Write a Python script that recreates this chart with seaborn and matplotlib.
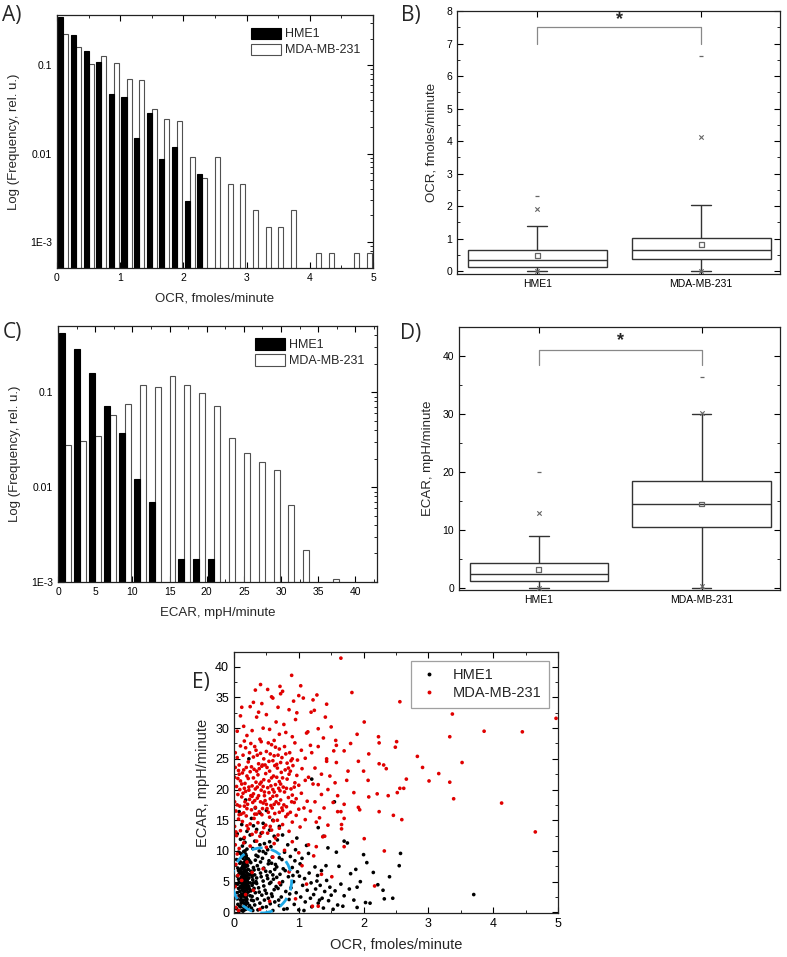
import numpy as np
import pandas as pd
import matplotlib
matplotlib.use('Agg')
import matplotlib.pyplot as plt
import seaborn as sns
from matplotlib.ticker import MultipleLocator, FixedLocator, FixedFormatter, LogLocator, NullFormatter
from matplotlib.patches import Patch, Ellipse
from matplotlib.lines import Line2D

sns.set_style('ticks')
plt.rcParams['font.family'] = ['Liberation Sans', 'DejaVu Sans']

cells = ['HME1', 'MDA-MB-231']

# A) OCR histogram, bins of 0.2 fmoles/minute
ocr_bin_centers = [0.1, 0.3, 0.5, 0.7, 0.9, 1.1, 1.3, 1.5, 1.7, 1.9, 2.1, 2.3, 2.5,
                   2.7, 2.9, 3.1, 3.3, 3.5, 3.7, 3.9, 4.1, 4.3, 4.5, 4.7, 4.9]
ocr_hme1_freq = [0.35, 0.22, 0.146, 0.109, 0.047, 0.044, 0.0149, 0.029, 0.0088, 0.0119, 0.00295, 0.0059, 0,
                 0, 0, 0, 0, 0, 0, 0, 0, 0, 0, 0, 0]
ocr_mda_freq = [0.225, 0.161, 0.104, 0.128, 0.106, 0.070, 0.068, 0.0324, 0.0248, 0.0233, 0.0091, 0.0053, 0.0091,
                0.0046, 0.0046, 0.00228, 0.0015, 0.0015, 0.00228, 0, 0.00075, 0.00075, 0, 0.00075, 0.00075]

# C) ECAR histogram, bins of 2 mpH/minute
ecar_bin_centers = [1, 3, 5, 7, 9, 11, 13, 15, 17, 19, 21, 23, 25, 27, 29, 31, 33, 35, 37, 39, 41]
ecar_hme1_freq = [0.425, 0.283, 0.160, 0.071, 0.037, 0.0123, 0.0070, 0, 0.00177, 0.00177, 0.00177,
                  0, 0, 0, 0, 0, 0, 0, 0, 0, 0]
ecar_mda_freq = [0.0275, 0.0305, 0.0348, 0.058, 0.076, 0.120, 0.115, 0.148, 0.120, 0.098, 0.071,
                 0.0329, 0.0228, 0.0183, 0.0152, 0.0065, 0.00216, 0, 0.00108, 0, 0]

# B) OCR box summary: whisker low, Q1, median, Q3, whisker high
ocr_box_hme1 = [0.0, 0.12, 0.33, 0.64, 1.40]
ocr_box_mda = [0.0, 0.36, 0.64, 1.02, 2.02]
ocr_mean = [0.47, 0.82]
ocr_p1 = [0.0, 0.0]
ocr_p99 = [1.92, 4.12]
ocr_min = [0.0, 0.0]
ocr_max = [2.32, 6.62]

# D) ECAR box summary
ecar_box_hme1 = [0.0, 1.3, 2.5, 4.4, 9.0]
ecar_box_mda = [0.0, 10.5, 14.5, 18.4, 30.1]
ecar_mean = [3.2, 14.5]
ecar_p1 = [0.0, 0.4]
ecar_p99 = [13.0, 30.2]
ecar_min = [0.0, 0.0]
ecar_max = [20.1, 36.4]

# E) single cell OCR / ECAR
hme1_points = [
    (0.12, 0.3), (0.15, 0.8), (0.18, 1.2), (0.14, 1.6), (0.2, 2.1), (0.11, 2.4), (0.17, 2.9), (0.22, 3.3),
    (0.13, 3.6), (0.16, 4.0), (0.19, 4.4), (0.12, 4.7), (0.21, 5.0), (0.15, 5.3), (0.18, 5.7), (0.13, 6.0),
    (0.2, 6.4), (0.16, 6.8), (0.11, 7.1), (0.19, 7.5), (0.14, 7.9), (0.17, 8.3), (0.22, 8.7), (0.12, 9.1),
    (0.18, 9.5), (0.15, 9.9), (0.1, 0.9), (0.13, 1.9), (0.16, 2.6), (0.19, 3.1), (0.12, 3.9), (0.14, 4.6),
    (0.17, 5.2), (0.2, 5.9), (0.13, 6.5), (0.16, 7.3), (0.19, 8.0), (0.14, 8.8), (0.11, 5.6), (0.23, 4.2),
    (0.24, 6.1), (0.09, 3.4), (0.09, 6.9), (0.18, 0.5), (0.21, 1.5), (0.25, 2.7), (0.08, 4.9), (0.24, 3.8),
    (0.22, 7.0), (0.16, 9.2), (0.2, 10.3), (0.13, 10.8), (0.17, 11.4), (0.15, 3.0), (0.17, 3.5), (0.18, 4.8),
    (0.15, 6.2), (0.17, 6.6), (0.14, 5.5), (0.19, 2.3), (0.13, 2.8), (0.21, 4.6), (0.16, 1.1), (0.12, 5.8),
    (0.2, 3.7), (0.14, 7.6), (0.18, 8.5), (0.15, 4.3), (0.17, 7.8), (0.19, 5.4), (0.12, 6.3), (0.23, 5.6),
    (0.1, 2.0), (0.16, 0.4), (0.06, 1.3), (0.05, 3.2), (0.07, 5.4), (0.06, 7.2), (0.04, 8.6), (0.07, 9.8),
    (0.05, 2.2), (0.03, 4.5), (0.08, 6.3), (0.04, 0.6),
    (0.14, 0.2), (0.17, 1.4), (0.15, 2.0), (0.18, 2.5), (0.16, 3.3), (0.14, 3.8), (0.18, 4.1), (0.16, 4.7),
    (0.14, 5.1), (0.18, 5.3), (0.16, 5.8), (0.14, 6.4), (0.18, 6.9), (0.16, 7.6), (0.15, 8.1), (0.19, 8.9),
    (0.13, 9.4), (0.17, 10.0), (0.21, 0.7), (0.2, 2.8), (0.22, 4.0), (0.21, 5.4), (0.22, 6.2), (0.21, 7.6),
    (0.2, 8.1), (0.11, 1.5), (0.12, 3.0), (0.1, 4.2), (0.11, 6.6), (0.1, 8.2), (0.19, 1.8), (0.17, 4.4),
    (0.15, 5.0), (0.17, 6.0), (0.19, 6.8), (0.15, 7.0), (0.13, 4.2), (0.13, 7.4), (0.19, 9.2), (0.24, 1.1),
    (0.25, 4.8), (0.26, 6.7), (0.24, 8.4), (0.27, 2.0), (0.28, 5.8), (0.3, 4.8), (0.29, 0.3), (0.32, 6.1),
    (0.09, 1.0), (0.09, 8.0), (0.08, 2.7), (0.07, 3.9), (0.06, 4.6), (0.07, 6.8), (0.05, 5.9), (0.1, 9.6),
    (0.27, 0.7), (0.3, 1.9), (0.33, 3.2), (0.28, 4.4), (0.35, 5.6), (0.31, 6.9), (0.26, 8.1), (0.34, 9.3),
    (0.29, 10.4), (0.37, 0.4), (0.4, 1.5), (0.43, 2.8), (0.38, 4.0), (0.45, 5.1), (0.41, 6.4), (0.36, 7.6),
    (0.44, 8.8), (0.39, 10.0), (0.47, 11.2), (0.5, 0.9), (0.53, 2.3), (0.48, 3.6), (0.55, 4.7), (0.51, 6.0),
    (0.46, 7.2), (0.54, 8.4), (0.49, 9.6), (0.57, 10.7), (0.6, 0.3), (0.63, 1.7), (0.58, 3.0), (0.65, 4.2),
    (0.61, 5.4), (0.56, 6.6), (0.64, 7.8), (0.59, 9.0), (0.67, 11.8), (0.7, 1.1), (0.73, 2.5), (0.68, 3.9),
    (0.75, 5.0), (0.71, 6.2), (0.66, 7.4), (0.74, 8.6), (0.78, 9.8), (0.77, 0.5), (0.8, 3.4), (0.79, 6.8),
    (0.62, 12.4), (0.42, 12.9), (0.32, 11.6), (0.28, 2.6), (0.31, 3.9), (0.34, 5.0), (0.27, 6.2), (0.3, 7.3),
    (0.33, 8.5), (0.26, 3.5), (0.29, 5.3), (0.32, 1.2), (0.36, 2.2), (0.39, 3.3), (0.35, 4.7), (0.42, 5.8),
    (0.38, 7.0), (0.41, 8.2), (0.37, 9.1), (0.44, 0.8), (0.47, 2.0), (0.5, 3.1), (0.46, 4.3), (0.52, 5.5),
    (0.49, 6.7), (0.53, 7.9), (0.45, 9.9), (0.56, 1.4), (0.59, 2.6), (0.62, 3.7), (0.57, 4.9), (0.6, 6.1),
    (0.63, 7.0), (0.58, 8.0), (0.55, 11.5), (0.69, 2.0), (0.72, 4.5), (0.66, 5.7), (0.7, 8.9), (0.76, 7.1),
    (0.4, 11.0), (0.52, 10.2), (0.35, 13.5), (0.25, 12.6), (0.2, 13.2), (0.3, 14.1), (0.45, 14.5), (0.15, 12.0),
    (0.1, 11.9), (0.55, 13.4), (0.27, 15.3), (0.4, 16.2), (0.6, 15.0), (0.12, 14.3), (0.33, 17.0), (0.5, 16.6),
    (0.7, 14.0), (0.75, 12.6), (0.23, 25.0), (0.08, 16.4), (0.05, 12.8), (0.18, 18.3),
    (0.82, 0.6), (0.85, 2.1), (0.88, 4.0), (0.84, 5.8), (0.9, 7.3), (0.93, 1.3), (0.96, 3.2), (0.92, 5.0),
    (0.98, 6.6), (1.0, 0.4), (1.03, 2.5), (1.06, 4.4), (1.02, 7.9), (1.1, 1.7), (1.13, 3.6), (1.09, 5.5),
    (1.16, 6.4), (1.2, 0.9), (1.23, 2.9), (1.19, 4.8), (1.26, 3.8), (1.3, 1.5), (1.33, 4.4), (1.29, 6.0),
    (1.36, 2.3), (1.4, 3.4), (1.38, 0.7), (1.43, 5.2), (1.46, 1.9), (1.5, 2.8), (1.48, 4.1), (1.53, 0.5),
    (1.56, 3.5), (1.6, 1.2), (0.87, 9.1), (0.95, 10.2), (1.05, 8.8), (1.15, 9.6), (1.25, 7.4), (0.83, 11.0),
    (0.97, 12.1), (1.12, 10.9), (1.35, 6.8), (1.42, 7.6), (1.08, 0.3), (1.32, 2.0), (1.18, 2.3), (1.28, 5.1),
    (0.94, 8.4), (1.01, 5.9), (0.86, 3.0), (0.91, 6.0),
    (1.65, 4.6), (1.7, 2.7), (1.75, 11.3), (1.7, 11.6), (1.8, 6.3), (1.85, 2.0), (1.9, 4.1), (1.95, 5.0),
    (2.0, 9.4), (2.05, 8.1), (2.1, 1.5), (2.03, 1.6), (2.15, 6.5), (2.3, 3.6), (2.32, 2.2), (2.4, 5.8),
    (2.55, 7.6), (2.57, 9.6), (3.7, 2.9), (1.3, 13.8), (1.55, 18.0), (1.2, 21.7), (1.62, 7.5), (1.78, 3.8),
    (1.68, 1.0), (1.88, 7.0), (2.22, 4.5), (1.58, 9.8), (1.45, 10.5), (1.38, 12.4), (1.9, 0.8), (2.45, 2.3),
]
mda_points = [
    (0.05, 29.5), (0.1, 32.0), (0.15, 30.3), (0.25, 33.5), (0.3, 34.2), (0.35, 31.8), (0.43, 34.0), (0.5, 32.2),
    (0.55, 29.8), (0.6, 34.9), (0.65, 31.0), (0.68, 33.4), (0.72, 35.6), (0.77, 30.6), (0.8, 29.3), (0.85, 33.0),
    (0.9, 28.6), (0.95, 31.4), (1.0, 35.3), (0.2, 28.8), (0.4, 28.2), (0.62, 28.0), (0.75, 36.0), (0.33, 36.2),
    (0.58, 35.1), (0.45, 30.0), (0.28, 29.6), (0.12, 33.4), (0.7, 29.0), (0.38, 32.6), (0.92, 34.4), (0.52, 36.3),
    (0.02, 26.0), (0.05, 25.2), (0.1, 27.1), (0.14, 25.6), (0.18, 26.8), (0.22, 24.5), (0.26, 27.5), (0.3, 25.3),
    (0.34, 26.4), (0.38, 24.2), (0.42, 27.8), (0.46, 25.0), (0.5, 26.2), (0.54, 24.6), (0.58, 27.3), (0.62, 25.5),
    (0.66, 24.1), (0.7, 26.6), (0.74, 25.2), (0.78, 27.0), (0.82, 24.3), (0.86, 26.0), (0.9, 25.0), (0.94, 27.6),
    (0.98, 24.8), (1.04, 26.4), (1.1, 25.1), (1.18, 27.2), (0.08, 24.0), (0.32, 27.0), (0.56, 25.8), (0.72, 24.4),
    (0.16, 27.9), (0.44, 24.0), (0.64, 26.9), (0.88, 24.7),
    (0.01, 22.0), (0.04, 20.5), (0.07, 23.1), (0.1, 21.4), (0.13, 22.7), (0.16, 20.2), (0.19, 23.6), (0.22, 21.8),
    (0.25, 22.9), (0.28, 20.6), (0.31, 23.3), (0.34, 21.2), (0.37, 22.4), (0.4, 20.9), (0.43, 23.8), (0.46, 21.6),
    (0.49, 22.6), (0.52, 20.3), (0.55, 23.0), (0.58, 21.9), (0.61, 22.2), (0.64, 20.8), (0.67, 23.5), (0.7, 21.3),
    (0.73, 22.8), (0.76, 20.4), (0.79, 23.2), (0.82, 21.7), (0.85, 22.5), (0.88, 20.1), (0.91, 23.9), (0.94, 21.1),
    (0.97, 22.3), (1.0, 20.7), (1.05, 23.4), (1.1, 21.5), (1.15, 22.0), (1.22, 20.9), (0.06, 21.8), (0.12, 20.9),
    (0.2, 22.2), (0.27, 23.7), (0.33, 20.1), (0.39, 23.4), (0.45, 20.5), (0.51, 23.6), (0.57, 20.6), (0.63, 23.9),
    (0.69, 20.2), (0.75, 21.9), (0.81, 20.2), (0.87, 23.0), (0.93, 20.4), (0.17, 21.0), (0.36, 20.4), (0.6, 20.0),
    (0.48, 24.0), (0.3, 21.9), (0.02, 23.6), (0.09, 20.0),
    (0.08, 22.5), (0.15, 23.2), (0.23, 20.4), (0.35, 23.0), (0.42, 21.2), (0.54, 21.4), (0.66, 22.0), (0.72, 20.9),
    (0.84, 23.5), (0.41, 25.9), (0.53, 27.6), (0.6, 24.7), (0.24, 26.0), (0.36, 25.6), (0.68, 25.6), (0.8, 25.8),
    (0.47, 19.6), (0.56, 18.5), (0.32, 18.2), (0.44, 16.9), (0.62, 17.6), (0.28, 18.9), (0.7, 16.3), (0.16, 17.3),
    (0.01, 18.0), (0.03, 16.5), (0.06, 19.2), (0.09, 17.3), (0.12, 18.8), (0.15, 16.2), (0.18, 19.7), (0.21, 17.6),
    (0.24, 18.4), (0.27, 16.7), (0.3, 19.3), (0.33, 17.1), (0.36, 18.6), (0.39, 16.4), (0.42, 19.9), (0.45, 17.8),
    (0.48, 18.2), (0.51, 16.9), (0.54, 19.5), (0.57, 17.4), (0.6, 18.9), (0.63, 16.1), (0.66, 19.0), (0.69, 17.7),
    (0.72, 18.3), (0.75, 16.6), (0.78, 19.6), (0.81, 17.2), (0.84, 18.7), (0.87, 16.3), (0.9, 19.1), (0.93, 17.9),
    (0.96, 18.5), (1.0, 16.8), (1.04, 19.4), (1.08, 17.0), (1.13, 18.1), (1.18, 16.5), (0.05, 17.5), (0.11, 16.0),
    (0.17, 18.0), (0.23, 19.9), (0.29, 17.9), (0.35, 16.0), (0.41, 18.0), (0.47, 19.0), (0.53, 16.3), (0.59, 17.0),
    (0.65, 18.0), (0.71, 19.8), (0.77, 17.5), (0.83, 16.0), (0.89, 18.0), (0.2, 16.9), (0.26, 19.0), (0.38, 19.0),
    (0.5, 17.6), (0.62, 19.6), (0.74, 17.0), (0.14, 19.4),
    (0.01, 14.0), (0.04, 12.5), (0.07, 15.2), (0.1, 13.3), (0.13, 14.8), (0.16, 12.2), (0.19, 15.7), (0.22, 13.6),
    (0.25, 14.4), (0.28, 12.7), (0.31, 15.3), (0.34, 13.1), (0.37, 14.6), (0.4, 12.4), (0.43, 15.9), (0.46, 13.8),
    (0.49, 14.2), (0.52, 12.9), (0.55, 15.5), (0.58, 13.4), (0.61, 14.9), (0.64, 12.1), (0.67, 15.0), (0.7, 13.7),
    (0.75, 14.3), (0.8, 15.6), (0.85, 13.2), (0.9, 14.7), (0.96, 15.8), (1.02, 13.9), (1.1, 15.1), (0.08, 15.9),
    (0.2, 14.1), (0.32, 16.0), (0.44, 13.0), (0.56, 14.0), (0.68, 12.6), (0.03, 13.1),
    (0.02, 11.0), (0.05, 9.5), (0.03, 7.8), (0.06, 6.0), (0.02, 4.2), (0.04, 2.5), (0.03, 0.8), (0.08, 10.4),
    (0.15, 11.3), (0.25, 10.8), (0.35, 11.6), (0.5, 10.6), (0.62, 11.2), (0.78, 10.1), (0.9, 11.5), (0.2, 8.2),
    (0.12, 5.2), (0.3, 3.6), (0.45, 7.1), (0.55, 1.8), (0.7, 4.8), (0.85, 6.6), (1.0, 9.7), (1.15, 11.0),
    (1.3, 1.0), (1.35, 6.2), (1.12, 4.6), (0.95, 2.2), (0.4, 0.5), (0.18, 2.9), (0.07, 0.3), (0.6, 9.0),
    (0.28, 6.5), (1.05, 7.6),
    (1.65, 41.4), (0.89, 38.6), (0.41, 37.1), (0.71, 36.8), (1.03, 36.9), (1.82, 35.8), (2.56, 34.3), (3.37, 32.3),
    (4.97, 31.6), (2.01, 31.0), (3.33, 28.6), (3.86, 29.5), (4.45, 29.4), (2.23, 28.6), (2.24, 27.6), (2.51, 27.8),
    (2.49, 26.9), (2.83, 25.4), (2.91, 23.6), (3.16, 22.6), (3.01, 21.4), (3.33, 21.2), (3.52, 24.4), (3.39, 18.5),
    (4.13, 17.8), (4.65, 13.1), (2.59, 15.1), (2.46, 15.8), (2.24, 16.4), (2.66, 21.7), (2.56, 20.2), (2.62, 20.2),
    (2.52, 19.5), (2.38, 19.0), (2.21, 19.3), (2.08, 18.8), (2.07, 21.5), (2.24, 24.2), (2.31, 24.0), (2.35, 23.4),
    (2.08, 25.8), (1.92, 24.6), (1.92, 17.1), (1.94, 16.7), (1.65, 16.4), (1.70, 15.3), (1.66, 13.6), (1.66, 14.3),
    (1.70, 10.7), (2.01, 12.0), (2.32, 10.0), (2.17, 4.3),
    (1.28, 35.4), (1.22, 34.6), (1.07, 34.9), (1.43, 33.9), (1.19, 32.6), (1.24, 32.9), (0.97, 32.5), (1.41, 31.8),
    (1.30, 29.9), (1.12, 29.2), (1.14, 29.4), (1.38, 28.4), (1.57, 28.0), (1.58, 27.2), (1.70, 26.3), (1.54, 26.3),
    (1.43, 25.0), (1.43, 24.6), (1.58, 24.4), (1.48, 22.2), (1.56, 21.1), (1.76, 23.0), (1.74, 21.5), (1.53, 17.9),
    (1.39, 17.0), (1.37, 12.3), (1.40, 12.4), (1.60, 16.4), (1.32, 15.4), (1.27, 14.7), (1.27, 10.7), (1.23, 9.2),
    (1.21, 1.0), (1.51, 5.8), (1.25, 23.5), (1.3, 20.8), (1.35, 19.2), (1.25, 18.0), (1.45, 20.0), (1.2, 26.0),
    (1.3, 27.0), (1.5, 30.2), (1.35, 22.5), (1.85, 19.5), (1.8, 27.5), (2.0, 23.0), (1.9, 29.0), (1.6, 19.0),
    (1.7, 17.6), (1.45, 14.2),
]

hist_colors = {'HME1': 'black', 'MDA-MB-231': 'white'}
box_line = '#333333'
marker_gray = '#666666'


def style_ticks(ax, size=7.5):
    ax.tick_params(which='both', direction='in', top=True, right=True, labelsize=size, colors='black')
    ax.tick_params(which='major', length=4, width=0.8)
    ax.tick_params(which='minor', length=2, width=0.6)
    for s in ax.spines.values():
        s.set_linewidth(0.9)
        s.set_color('#222222')


def hist_panel(ax, centers, hme1, mda, edges, xlabel, ylim, xmajor, xminor, xlim):
    df = pd.DataFrame({
        'x': centers + centers,
        'freq': hme1 + mda,
        'cell': ['HME1'] * len(centers) + ['MDA-MB-231'] * len(centers),
    })
    sns.histplot(data=df, x='x', weights='freq', hue='cell', hue_order=cells, bins=list(edges),
                 multiple='dodge', shrink=0.8, palette=hist_colors, alpha=1, linewidth=0.8,
                 legend=False, ax=ax)
    ax.set_yscale('log')
    for p in ax.patches:
        fc = p.get_facecolor()
        p.set_edgecolor('black' if fc[0] < 0.5 else '#505050')
    ax.set_xlim(*xlim)
    ax.set_ylim(*ylim)
    ax.yaxis.set_major_locator(FixedLocator([1e-3, 1e-2, 1e-1]))
    ax.yaxis.set_major_formatter(FixedFormatter(['1E-3', '0.01', '0.1']))
    ax.yaxis.set_minor_locator(LogLocator(base=10, subs=np.arange(2, 10)))
    ax.yaxis.set_minor_formatter(NullFormatter())
    ax.xaxis.set_major_locator(MultipleLocator(xmajor))
    ax.xaxis.set_minor_locator(MultipleLocator(xminor))
    ax.set_xlabel(xlabel, fontsize=9.5, labelpad=7)
    ax.set_ylabel('Log (Frequency, rel. u.)', fontsize=9.5, labelpad=7)
    style_ticks(ax)
    handles = [Patch(facecolor='black', edgecolor='black', linewidth=0.8),
               Patch(facecolor='white', edgecolor='#505050', linewidth=0.8)]
    ax.legend(handles, cells, loc='upper right', frameon=False, fontsize=9,
              handlelength=2.4, handleheight=1.0, labelspacing=0.25, borderaxespad=0.6,
              handletextpad=0.3)


def box_panel(ax, box_hme1, box_mda, mean, p1, p99, vmin, vmax, ylabel, ylim, ymajor, yminor,
              bracket_low, bracket_high, star_y):
    df = pd.DataFrame({'cell': ['HME1'] * 5 + ['MDA-MB-231'] * 5, 'value': box_hme1 + box_mda})
    sns.boxplot(data=df, x='cell', y='value', order=cells, whis=(0, 100), width=0.85,
                color='white', linecolor=box_line, linewidth=1.0, fliersize=0, capwidths=0.12, ax=ax)
    sns.scatterplot(x=cells, y=mean, marker='s', s=12, facecolors='none', edgecolor=marker_gray,
                    linewidth=0.9, zorder=4, ax=ax)
    sns.scatterplot(x=cells + cells, y=p1 + p99, marker='x', s=10, color=marker_gray, linewidth=0.8,
                    zorder=4, ax=ax)
    sns.scatterplot(x=cells + cells, y=vmin + vmax, marker='_', s=12, color=marker_gray, linewidth=0.9,
                    zorder=4, ax=ax)
    ax.plot([0, 0, 1, 1], [bracket_low, bracket_high, bracket_high, bracket_low], color='#888888', lw=0.9)
    ax.text(0.5, star_y, '*', ha='center', va='center', fontsize=13, fontweight='bold')
    ax.set_xlim(-0.49, 1.48)
    ax.set_ylim(*ylim)
    ax.yaxis.set_major_locator(MultipleLocator(ymajor))
    ax.yaxis.set_minor_locator(MultipleLocator(yminor))
    ax.set_xlabel('')
    ax.set_ylabel(ylabel, fontsize=9.5, labelpad=6)
    style_ticks(ax)
    ax.tick_params(axis='x', which='minor', bottom=False, top=False)


fig = plt.figure(figsize=(7.87, 9.57), dpi=100)

axA = fig.add_axes([0.0724, 0.720, 0.4016, 0.2643])
hist_panel(axA, ocr_bin_centers, ocr_hme1_freq, ocr_mda_freq, np.linspace(0, 5, 26),
           'OCR, fmoles/minute', (5.1e-4, 0.37), 1, 0.5, (0, 5))

axC = fig.add_axes([0.0737, 0.3918, 0.4053, 0.2676])
hist_panel(axC, ecar_bin_centers, ecar_hme1_freq, ecar_mda_freq, np.linspace(0, 42, 22),
           'ECAR, mpH/minute', (1e-3, 0.5), 5, 2.5, (0, 42.9))

axB = fig.add_axes([0.5807, 0.7137, 0.4103, 0.2748])
box_panel(axB, ocr_box_hme1, ocr_box_mda, ocr_mean, ocr_p1, ocr_p99, ocr_min, ocr_max,
          'OCR, fmoles/minute', (-0.09, 8), 1, 0.5, 7.0, 7.5, 7.75)

axD = fig.add_axes([0.5832, 0.3835, 0.4078, 0.2748])
box_panel(axD, ecar_box_hme1, ecar_box_mda, ecar_mean, ecar_p1, ecar_p99, ecar_min, ecar_max,
          'ECAR, mpH/minute', (-0.3, 45), 10, 5, 38.4, 41.0, 42.6)

# E) scatter
axE = fig.add_axes([0.2973, 0.0460, 0.4117, 0.2727])
scatter_df = pd.concat([
    pd.DataFrame(hme1_points, columns=['OCR', 'ECAR']).assign(cell='HME1'),
    pd.DataFrame(mda_points, columns=['OCR', 'ECAR']).assign(cell='MDA-MB-231'),
])
sns.scatterplot(data=scatter_df, x='OCR', y='ECAR', hue='cell', hue_order=cells,
                palette={'HME1': 'black', 'MDA-MB-231': '#e00000'}, s=7, linewidth=0,
                legend=False, ax=axE)
axE.add_patch(Ellipse((0.43, 5.2), 0.92, 10.6, fill=False, ls=(0, (4, 3)), lw=2, color='#1ea8e6',
                      zorder=5))
axE.set_xlim(0, 5)
axE.set_ylim(-0.1, 42.4)
axE.xaxis.set_major_locator(MultipleLocator(1))
axE.xaxis.set_minor_locator(MultipleLocator(0.5))
axE.yaxis.set_major_locator(MultipleLocator(5))
axE.yaxis.set_minor_locator(MultipleLocator(2.5))
axE.set_xlabel('OCR, fmoles/minute', fontsize=10.5, labelpad=6)
axE.set_ylabel('ECAR, mpH/minute', fontsize=10.5, labelpad=4)
style_ticks(axE, size=9)
legend_handles = [Line2D([], [], ls='', marker='o', markersize=1.8, color='black'),
                  Line2D([], [], ls='', marker='o', markersize=1.8, color='#e00000')]
leg = axE.legend(legend_handles, cells, loc='upper right', fontsize=10.5, fancybox=False,
                 edgecolor='#888888', handlelength=1.5, handletextpad=0.9, borderpad=0.5,
                 labelspacing=0.3, borderaxespad=0.6)
leg.get_frame().set_linewidth(0.9)

# panel letters
for label, x, y in [('A)', 0.002, 0.995), ('B)', 0.510, 0.995), ('C)', 0.003, 0.664),
                    ('D)', 0.508, 0.663), ('E)', 0.244, 0.298)]:
    fig.text(x, y, label, fontsize=15, va='top', ha='left', family=['Open Sans', 'DejaVu Sans'])

fig.savefig('out.png', dpi=100)
